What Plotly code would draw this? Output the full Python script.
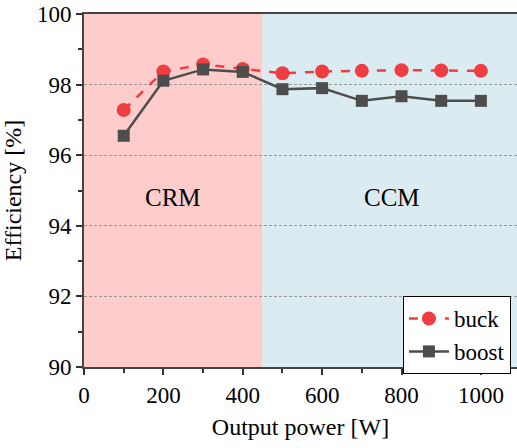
import plotly.graph_objects as go

power = [100, 200, 300, 400, 500, 600, 700, 800, 900, 1000]
buck = [97.28, 98.37, 98.57, 98.44, 98.32, 98.37, 98.39, 98.41, 98.40, 98.39]
boost = [96.55, 98.11, 98.43, 98.36, 97.87, 97.90, 97.54, 97.67, 97.54, 97.54]
crm_range = [0, 450]
ccm_range = [450, 1100]
x_ticks = [0, 200, 400, 600, 800, 1000]
y_ticks = [90, 92, 94, 96, 98, 100]

FONT = "Liberation Serif, Times New Roman, serif"
TF = dict(family=FONT, size=23, color="black")

fig = go.Figure()
fig.add_shape(type="rect", xref="x", yref="paper", x0=crm_range[0], x1=crm_range[1], y0=0, y1=1,
              fillcolor="#FFCCCC", line_width=0, layer="below")
fig.add_shape(type="rect", xref="x", yref="paper", x0=ccm_range[0], x1=ccm_range[1], y0=0, y1=1,
              fillcolor="#DAECF2", line_width=0, layer="below")

fig.add_trace(go.Scatter(x=power, y=buck, name="buck", mode="lines+markers",
                         line=dict(color="#EF3E42", width=2.5, dash="dash"),
                         marker=dict(symbol="circle", size=14, color="#EF3E42")))
fig.add_trace(go.Scatter(x=power, y=boost, name="boost", mode="lines+markers",
                         line=dict(color="#4D4D4D", width=2.5),
                         marker=dict(symbol="square", size=12, color="#4D4D4D")))

fig.add_annotation(x=225, y=94.8, text="CRM", showarrow=False, font=dict(family=FONT, size=25, color="black"))
fig.add_annotation(x=775, y=94.8, text="CCM", showarrow=False, font=dict(family=FONT, size=25, color="black"))

fig.update_layout(
    width=517, height=448,
    margin=dict(l=84, r=0, t=14, b=81),
    paper_bgcolor="white", plot_bgcolor="white",
    font=dict(family=FONT, size=22, color="black"),
    showlegend=True,
    legend=dict(x=0.986, y=0.201, xanchor="right", yanchor="top",
                bgcolor="white", bordercolor="black", borderwidth=1,
                font=dict(family=FONT, size=23, color="black"), tracegroupgap=0, itemwidth=40),
    xaxis=dict(range=[0, 1091], tickvals=x_ticks, ticks="outside", ticklen=6, tickwidth=1.5,
               tickcolor="#333", tickfont=TF, showline=True, linecolor="#444", linewidth=2, mirror=True,
               showgrid=False, zeroline=False,
               minor=dict(dtick=100, tick0=0, ticks="outside", ticklen=4, tickcolor="#333", showgrid=False),
               title=dict(text="Output power [W]", font=dict(family=FONT, size=24, color="black"), standoff=12),
               automargin=False),
    yaxis=dict(range=[90, 100], tickvals=y_ticks, ticks="outside", ticklen=6, tickwidth=1.5,
               tickcolor="#333", tickfont=TF, showline=True, linecolor="#444", linewidth=2, mirror=False,
               showgrid=True, gridcolor="#999", griddash="3px,2px", gridwidth=1, zeroline=False,
               minor=dict(dtick=1, tick0=90, ticks="outside", ticklen=4, tickcolor="#333", showgrid=False),
               title=dict(text="Efficiency [%]", font=dict(family=FONT, size=24, color="black"), standoff=10),
               automargin=False),
)

fig.write_html("out.html")
